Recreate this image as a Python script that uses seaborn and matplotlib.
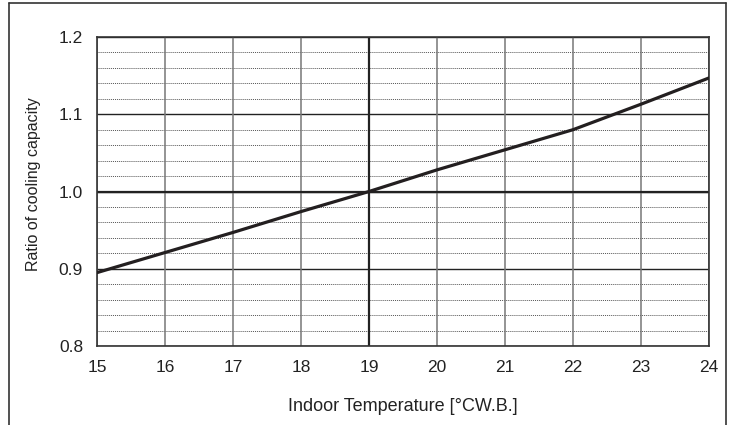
import numpy as np
import pandas as pd
import matplotlib
matplotlib.use("Agg")
import matplotlib.pyplot as plt
from matplotlib.lines import Line2D
import seaborn as sns

temps = [15, 16, 17, 18, 19, 20, 21, 22, 23, 24]
ratio = [0.895, 0.921, 0.947, 0.974, 1.000, 1.028, 1.054, 1.080, 1.113, 1.147]
x_ticks = [15, 16, 17, 18, 19, 20, 21, 22, 23, 24]
y_ticks = [0.8, 0.9, 1.0, 1.1, 1.2]
y_minor = [0.82, 0.84, 0.86, 0.88, 0.92, 0.94, 0.96, 0.98,
           1.02, 1.04, 1.06, 1.08, 1.12, 1.14, 1.16, 1.18]

df = pd.DataFrame({"temp": temps, "ratio": ratio})

sns.set_style("white")
plt.rcParams["font.family"] = ["Liberation Sans", "DejaVu Sans"]

fig = plt.figure(figsize=(7.32, 4.25), dpi=100)
ax = fig.add_axes([97 / 732, 1 - 346 / 425, (709 - 97) / 732, (346 - 37) / 425])

# grid
for y in y_minor:
    ax.axhline(y, color="#555555", lw=0.7, ls=(0, (1, 1)), zorder=1)
for y in y_ticks:
    ax.axhline(y, color="#222222", lw=1.0, zorder=1)
for x in x_ticks:
    ax.axvline(x, color="#777777", lw=1.1, zorder=1)
ax.axvline(19, color="#222222", lw=1.6, zorder=2)
ax.axhline(1.0, color="#222222", lw=1.6, zorder=2)

sns.lineplot(data=df, x="temp", y="ratio", color="#231f20", lw=2.3, ax=ax, zorder=3)

ax.set_xlim(15, 24)
ax.set_ylim(0.8, 1.2)
ax.set_xticks(x_ticks)
ax.set_yticks(y_ticks)
ax.set_yticklabels([f"{v:.1f}" for v in y_ticks])
ax.tick_params(labelsize=12.5, length=0, pad=10, colors="#222222")
for s in ax.spines.values():
    s.set_color("#333333")
    s.set_linewidth(1.2)

ax.set_xlabel("Indoor Temperature [°CW.B.]", fontsize=13, color="#222222", va="center")
ax.xaxis.set_label_coords(0.5, -0.197)
ax.set_ylabel("Ratio of cooling capacity", fontsize=11.5, color="#222222", va="center")
ax.yaxis.set_label_coords(-0.103, 0.525)

# outer frame (open at the bottom)
fx0, fx1, fy1 = 9 / 732, 726 / 732, 1 - 3 / 425
for xs, ys in [([fx0, fx0], [0, fy1]), ([fx0, fx1], [fy1, fy1]), ([fx1, fx1], [fy1, 0])]:
    fig.add_artist(Line2D(xs, ys, transform=fig.transFigure, color="#333333", lw=1.2))

plt.savefig("out.png", dpi=100)
